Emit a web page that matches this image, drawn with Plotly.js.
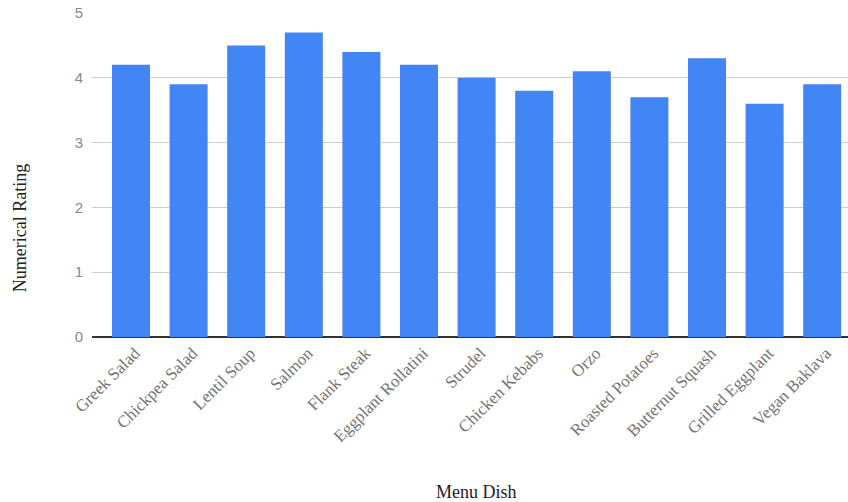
<!DOCTYPE html>
<html>
<head>
<meta charset="utf-8">
<script src="https://cdn.plot.ly/plotly-3.0.1.min.js"></script>
<style>html,body{margin:0;padding:0;background:#fff;}#chart{width:848px;height:502px;}</style>
</head>
<body>
<div id="chart"></div>
<script>
const dishes = ["Greek Salad","Chickpea Salad","Lentil Soup","Salmon","Flank Steak","Eggplant Rollatini","Strudel","Chicken Kebabs","Orzo","Roasted Potatoes","Butternut Squash","Grilled Eggplant","Vegan Baklava"];
const ratings = [4.2,3.9,4.5,4.7,4.4,4.2,4.0,3.8,4.1,3.7,4.3,3.6,3.9];
const yTicks = [0,1,2,3,4,5];

const serif = "'Liberation Serif', 'DejaVu Serif', serif";

Plotly.newPlot('chart', [{
  type: 'bar',
  x: dishes,
  y: ratings,
  marker: {color: '#4285f4'},
  hoverinfo: 'x+y'
}], {
  width: 848, height: 502,
  margin: {l: 92, r: 0, t: 13, b: 165},
  paper_bgcolor: '#fff', plot_bgcolor: '#fff',
  bargap: 0.34,
  showlegend: false,
  xaxis: {
    type: 'category',
    range: [-0.677, 12.448],
    tickangle: -45,
    tickfont: {family: serif, size: 17, color: '#757575'},
    showgrid: false,
    ticks: '',
    showline: false,
    zeroline: false,
    automargin: false,
    ticklabelstandoff: 2,
    ticklabelshift: 4,
    title: {text: ''}
  },
  yaxis: {
    range: [0, 5],
    tickvals: yTicks,
    ticktext: yTicks.map(String),
    tickfont: {family: "'Liberation Sans', Arial, sans-serif", size: 15, color: '#8a8a8a'},
    gridcolor: '#cccccc',
    gridwidth: 1,
    zeroline: true,
    zerolinecolor: '#333333',
    zerolinewidth: 2,
    ticks: '',
    ticklabelstandoff: 8,
    automargin: false,
    title: {text: ''}
  },
  annotations: [
    {text: 'Numerical Rating', xref: 'paper', yref: 'paper', x: -0.095, xanchor: 'center', y: 0.336, yanchor: 'middle',
     textangle: -90, showarrow: false, font: {family: serif, size: 18, color: '#222'}},
    {text: 'Menu Dish', xref: 'paper', yref: 'paper', x: 0.508, xanchor: 'center', y: -0.478, yanchor: 'middle',
     showarrow: false, font: {family: serif, size: 18, color: '#222'}}
  ]
}, {displayModeBar: false, staticPlot: true});
</script>
</body>
</html>
